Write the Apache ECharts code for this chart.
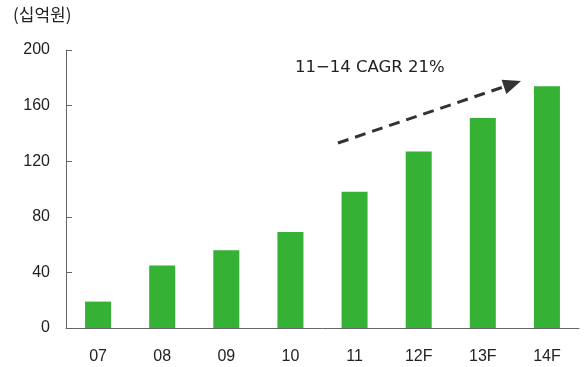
<!DOCTYPE html>
<html>
<head>
<meta charset="utf-8">
<script src="https://cdn.jsdelivr.net/npm/echarts@6/dist/echarts.min.js"></script>
<style>
  html, body { margin: 0; padding: 0; background: #fff; }
  #chart { width: 585px; height: 367px; }
</style>
</head>
<body>
<div id="chart"></div>
<script>
// Annual figures (십억원), F = forecast
const categories = ['07', '08', '09', '10', '11', '12F', '13F', '14F'];
const values = [19, 45, 56, 69, 98, 127, 151, 174];
const yTicks = [0, 40, 80, 120, 160, 200];
const unitLabel = '(십억원)';
const cagrLabel = '11\u221214 CAGR 21%';

const FONT = '"Liberation Sans", Arial, sans-serif';
const chart = echarts.init(document.getElementById('chart'), null, { renderer: 'canvas' });

function arrowGraphics() {
  // Dashed trend arrow from between '10' and '11' up to above '14F'
  const start = [338, 143];
  const tip = [521, 81];
  const dx = tip[0] - start[0], dy = tip[1] - start[1];
  const len = Math.hypot(dx, dy);
  const ux = dx / len, uy = dy / len;
  const nx = -uy, ny = ux;
  const headLen = 18, headHalf = 7.5;
  const base = [tip[0] - headLen * ux, tip[1] - headLen * uy];
  return [
    {
      type: 'line',
      shape: { x1: start[0], y1: start[1], x2: base[0] + 2 * ux, y2: base[1] + 2 * uy },
      style: { stroke: '#333333', lineWidth: 3, lineDash: [11, 7] },
      z: 10
    },
    {
      type: 'polygon',
      shape: {
        points: [
          tip,
          [base[0] + headHalf * nx, base[1] + headHalf * ny],
          [base[0] - headHalf * nx, base[1] - headHalf * ny]
        ]
      },
      style: { fill: '#333333' },
      z: 10
    },
    {
      type: 'text',
      left: 295,
      top: 59,
      style: { text: cagrLabel, font: '16.5px "DejaVu Sans", sans-serif', fill: '#222222' }
    },
    {
      type: 'text',
      left: 13,
      top: 6,
      style: { text: unitLabel, font: '17px "Noto Sans CJK KR", sans-serif', fill: '#222222' }
    }
  ];
}

chart.setOption({
  animation: false,
  backgroundColor: '#ffffff',
  grid: { left: 66, right: 6, top: 50, bottom: 39, containLabel: false },
  xAxis: {
    type: 'category',
    data: categories,
    boundaryGap: true,
    axisLine: { lineStyle: { color: '#666666', width: 1 } },
    axisTick: { inside: true, length: 5, lineStyle: { color: '#666666' } },
    axisLabel: { margin: 21, color: '#222222', fontSize: 16, fontFamily: FONT }
  },
  yAxis: {
    type: 'value',
    min: yTicks[0],
    max: yTicks[yTicks.length - 1],
    interval: yTicks[1] - yTicks[0],
    axisLine: { show: true, lineStyle: { color: '#666666', width: 1 } },
    axisTick: { show: true, inside: true, length: 6, lineStyle: { color: '#666666' } },
    splitLine: { show: false },
    axisLabel: { margin: 16, color: '#222222', fontSize: 16, fontFamily: FONT }
  },
  series: [{
    type: 'bar',
    data: values,
    barWidth: 26,
    itemStyle: { color: '#35b236' }
  }],
  graphic: arrowGraphics()
});
</script>
</body>
</html>
